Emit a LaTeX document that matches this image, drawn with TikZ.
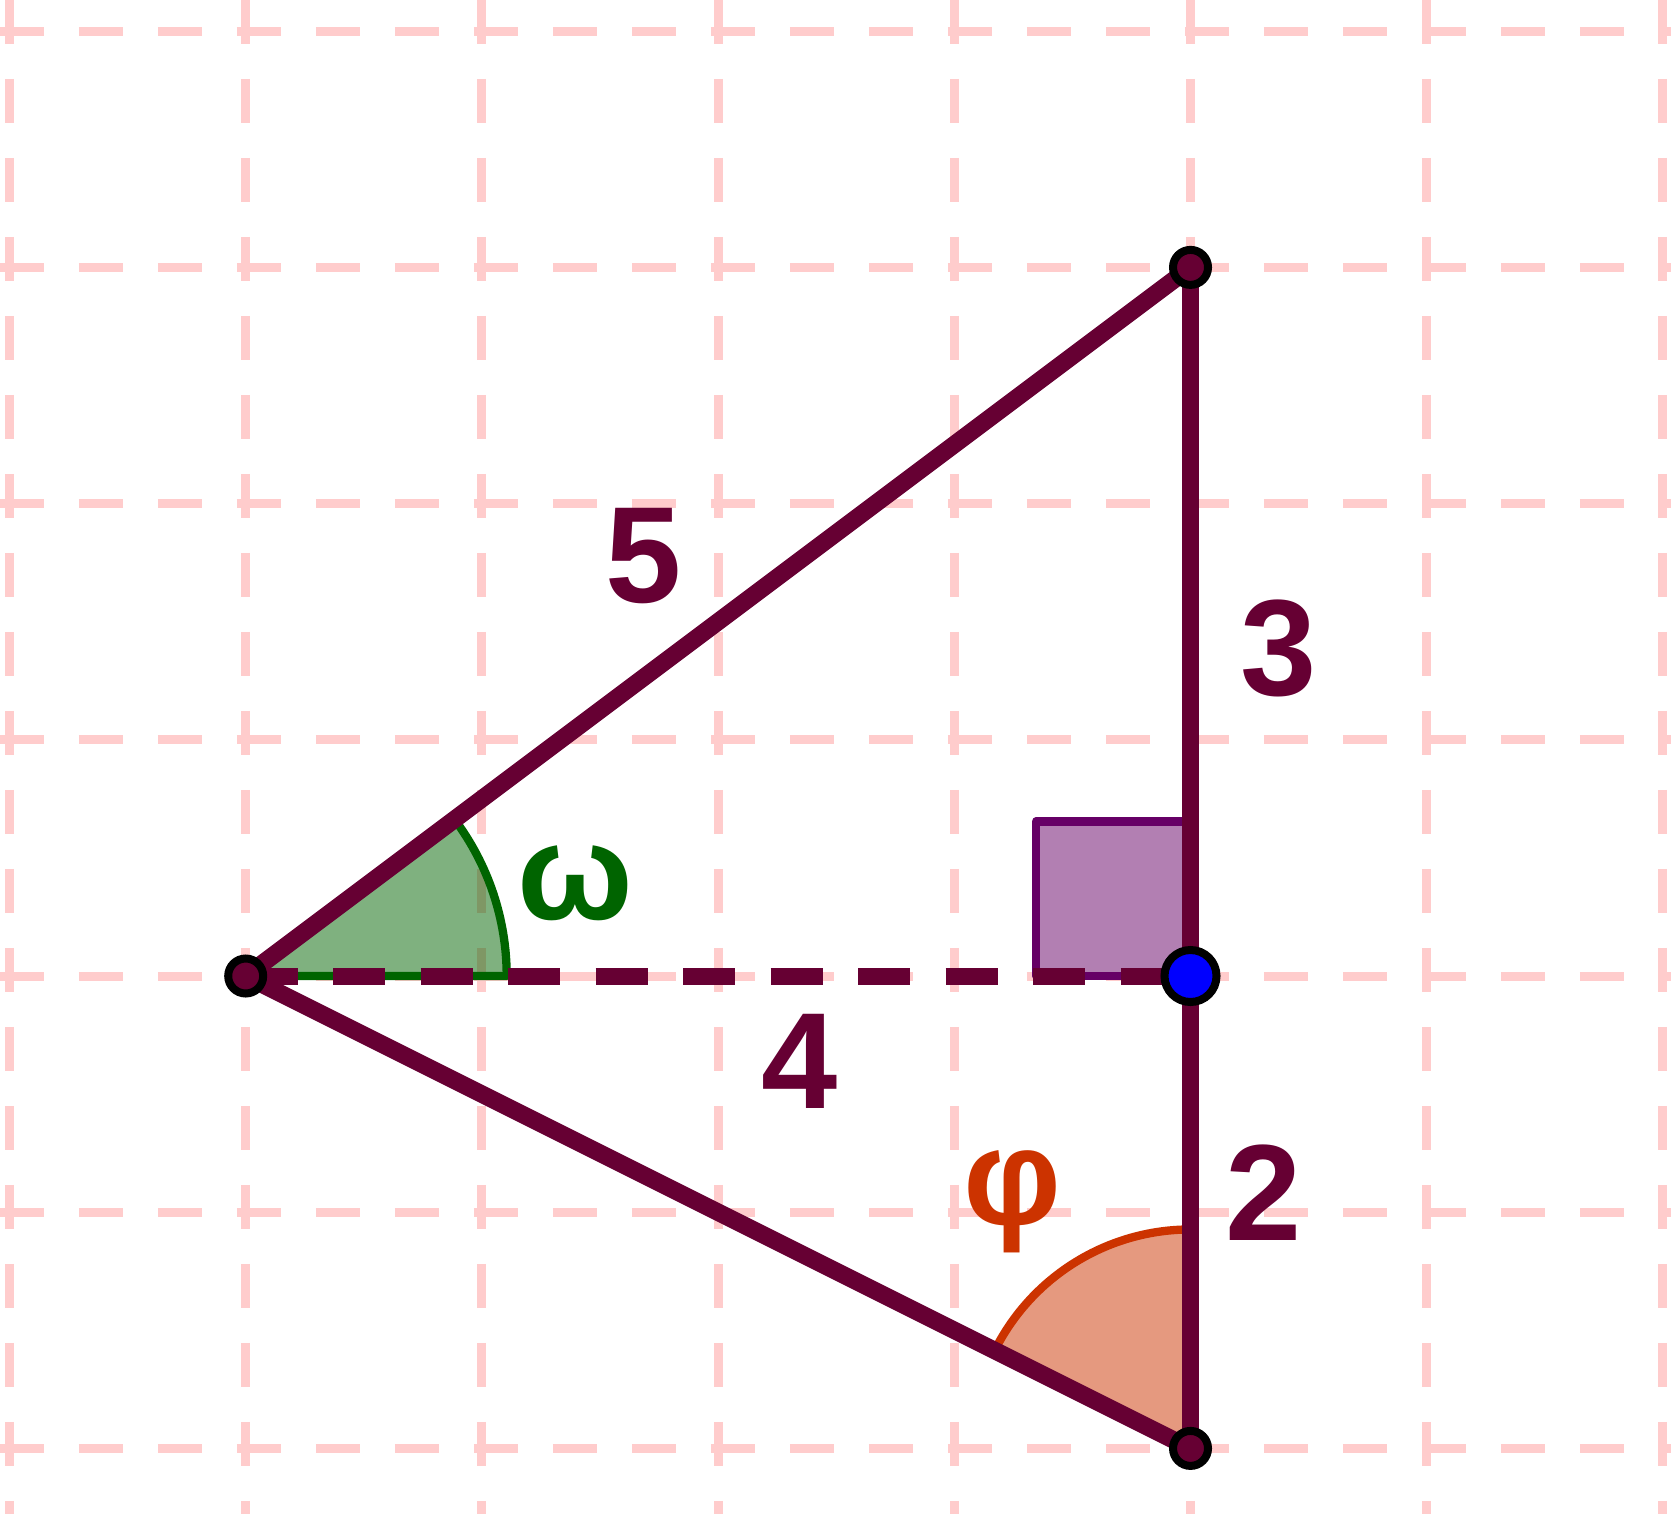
\documentclass[tikz,border=0pt]{standalone}
\usepackage{fontspec}
\setmainfont{Liberation Sans}
\usepackage{tikz}
\definecolor{gridpink}{RGB}{255,204,204}
\definecolor{maroon}{RGB}{102,0,51}
\definecolor{omegagreen}{RGB}{0,100,0}
\definecolor{phired}{RGB}{204,51,0}
\definecolor{rightpurple}{RGB}{102,0,102}
\tikzstyle{gridline}=[draw=gridpink, line width=2.17pt,
    dash pattern=on 10.6pt off 8.43pt]
\tikzstyle{segment}=[draw=maroon, line width=4.2pt]
\tikzstyle{altitude}=[draw=maroon, line width=4.1pt,
    dash pattern=on 12.53pt off 8.55pt]
\tikzstyle{vertex}=[circle, draw=black, fill=maroon, line width=1.93pt,
    minimum size=8.43pt, inner sep=0pt]
\tikzstyle{foot}=[vertex, fill=blue, minimum size=12.53pt]
\tikzstyle{sidelabel}=[text=maroon, font=\fontsize{33}{40}\selectfont\bfseries]
\tikzstyle{anglelabel}=[sidelabel]
\tikzstyle{sector}=[line width=2pt, fill opacity=0.5, line join=round]
\begin{document}
\begin{tikzpicture}[x=2cm,y=2cm]
\useasboundingbox (-1.0402,-2.2777) rectangle (6.0343,4.1321);
% grid
\foreach \gx in {-1,...,6}
  \draw [gridline] (\gx,4.1321) -- (\gx,-2.2777);
\foreach \gy in {-2,...,4}
  \draw [gridline] (-1.0402,\gy) -- (6.0343,\gy);
% corners
\coordinate (A) at (0,0);
\coordinate (B) at (4,3);
\coordinate (C) at (4,0);
\coordinate (D) at (4,-2);
% angles
\filldraw [sector, draw=omegagreen, fill=omegagreen] (A) -- ++(1.105,0) arc (0:36.87:1.105) -- cycle;
\filldraw [sector, draw=phired, fill=phired] (D) -- ++(0,0.927) arc (90:153.43:0.927) -- cycle;
\filldraw [sector, draw=rightpurple, fill=rightpurple] (C) rectangle ++(-0.654,0.654);
% sides
\draw [segment] (A) -- (B);
\draw [segment] (B) -- (C);
\draw [segment] (C) -- (D);
\draw [segment] (D) -- (A);
\draw [altitude] (A) -- (C);
% points
\node [vertex] (pA) at (A) {};
\node [vertex] (pB) at (B) {};
\node [vertex] (pD) at (D) {};
\node [foot] (pC) at (C) {};
% labels
\path (1.686,1.778) node [sidelabel] (hyp) {5};
\path (2.345,-0.360) node [sidelabel] (base) {4};
\path (4.373,1.387) node [sidelabel] (upper) {3};
\path (4.311,-0.917) node [sidelabel] (lower) {2};
\path (1.396,0.392) node [anglelabel, text=omegagreen] (omega) {ω};
\path (3.247,-0.956) node [anglelabel, text=phired] (phi) {φ};
\end{tikzpicture}
\end{document}
